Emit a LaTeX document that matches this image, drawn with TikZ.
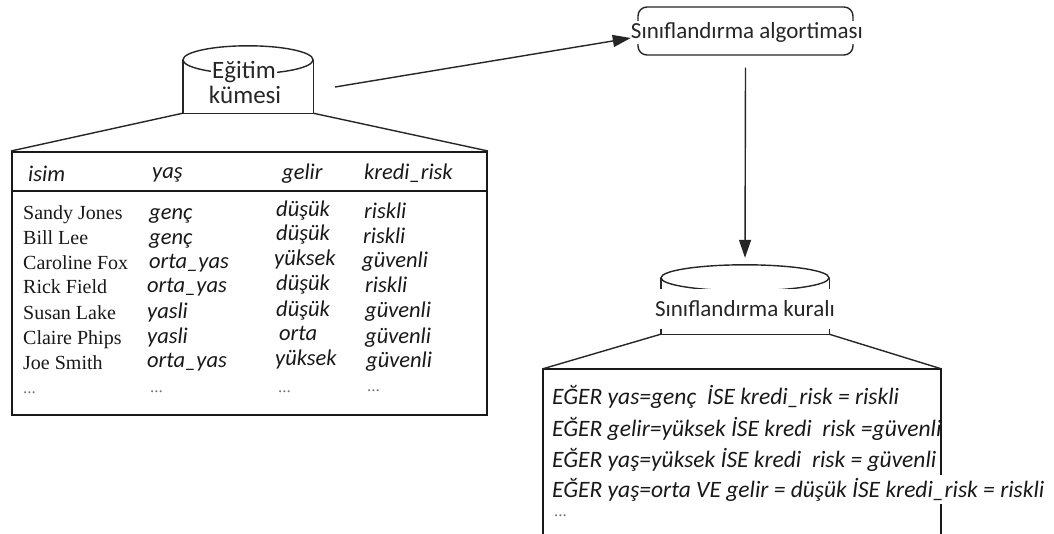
\documentclass[tikz,border=0pt]{standalone}
\usepackage{fontspec}
\setmainfont{Liberation Serif}
\setsansfont{Carlito}
\usetikzlibrary{arrows.meta,calc}
\tikzset{
  edge/.style={line width=1.4pt, draw=black!85},
  frame/.style={line width=2pt, draw=black!90},
  lbl/.style={font=\sffamily\fontsize{23}{26}\selectfont, text=black!85, inner sep=0pt},
  cyllbl/.style={font=\sffamily\fontsize{25}{28}\selectfont, text=black!85, inner sep=0pt},
  hdr/.style={font=\sffamily\itshape\fontsize{22.5}{26}\selectfont, anchor=base west, inner sep=0pt, text=black!90},
  nm/.style={font=\rmfamily\fontsize{20}{24}\selectfont, anchor=base west, inner sep=0pt, text=black!90},
  rulestxt/.style={font=\sffamily\itshape\fontsize{23.5}{26}\selectfont, anchor=base west, inner sep=0pt, text=black!90},
  ell/.style={font=\rmfamily\fontsize{17}{20}\selectfont, anchor=base west, inner sep=0pt, text=black!55},
  arr/.style={edge, -{Triangle[length=18pt,width=12pt]}},
}
\begin{document}
\begin{tikzpicture}[x=1pt,y=-1pt]
\useasboundingbox[fill=white] (0,0) rectangle (1054,533);

% training set cylinder
\node[minimum width=130pt, minimum height=53pt, inner sep=0pt] (train) at (248,86.5) {};
\draw[edge] (train.north west) -- (train.south west) -- (train.south east) -- (train.north east);
\draw[edge] (train.north) ellipse [x radius=65pt, y radius=14pt];
\node[cyllbl, fill=white, inner xsep=1pt] (trainA) at (244,72) {Eğitim};
\node[cyllbl] (trainB) at (245,95) {kümesi};

% data table
\node[frame, minimum width=475pt, minimum height=263pt, inner sep=0pt] (table) at (249.5,283.5) {};
\draw[frame] ($(table.north west)+(0,40)$) -- ($(table.north east)+(0,40)$);
\draw[edge] (train.south west) -- (table.north west);
\draw[edge] (train.south east) -- (table.north east);

\node[hdr] (h1) at (28,181) {isim};
\node[hdr] (h2) at (152,178) {yaş};
\node[hdr] (h3) at (282,179) {gelir};
\node[hdr] (h4) at (364,179) {kredi\_risk};

\node[nm] (n1) at (23,219) {Sandy Jones};
\node[nm] (n2) at (23,244) {Bill Lee};
\node[nm] (n3) at (23,269) {Caroline Fox};
\node[nm] (n4) at (23,293) {Rick Field};
\node[nm] (n5) at (23,319) {Susan Lake};
\node[nm] (n6) at (23,344) {Claire Phips};
\node[nm] (n7) at (23,369) {Joe Smith};

\node[hdr] (a1) at (149,219) {genç};
\node[hdr] (a2) at (149,244) {genç};
\node[hdr] (a3) at (149,268) {orta\_yas};
\node[hdr] (a4) at (147,292) {orta\_yas};
\node[hdr] (a5) at (147,318) {yasli};
\node[hdr] (a6) at (147,343) {yasli};
\node[hdr] (a7) at (147,367) {orta\_yas};

\node[hdr] (g1) at (276,216) {düşük};
\node[hdr] (g2) at (276,240) {düşük};
\node[hdr] (g3) at (274,265) {yüksek};
\node[hdr] (g4) at (276,290) {düşük};
\node[hdr] (g5) at (276,316) {düşük};
\node[hdr] (g6) at (279,340) {orta};
\node[hdr] (g7) at (275,365) {yüksek};

\node[hdr] (k1) at (364,218) {riskli};
\node[hdr] (k2) at (363,243) {riskli};
\node[hdr] (k3) at (362,267) {güvenli};
\node[hdr] (k4) at (365,292) {riskli};
\node[hdr] (k5) at (365,317) {güvenli};
\node[hdr] (k6) at (365,343) {güvenli};
\node[hdr] (k7) at (366,367) {güvenli};

\node[ell] (d1) at (23,393) {...};
\node[ell] (d2) at (150,392) {...};
\node[ell] (d3) at (278,392) {...};
\node[ell] (d4) at (367,391) {...};

% algorithm box
\node[edge, draw, rounded corners=9pt, minimum width=215pt, minimum height=48pt, inner sep=0pt] (algobox) at (745.5,31) {};
\node[lbl, fill=white, minimum height=23pt] (algo) at (747,32) {Sınıflandırma algortiması};

% rules cylinder
\node[minimum width=168pt, minimum height=56pt, inner sep=0pt] (rulescyl) at (745,306) {};
\draw[edge] (rulescyl.north west) -- (rulescyl.south west) -- (rulescyl.south east) -- (rulescyl.north east);
\draw[edge] (rulescyl.north) ellipse [x radius=84pt, y radius=13pt];
\node[lbl, fill=white, minimum height=40pt] (kural) at (745,309) {Sınıflandırma kuralı};

% rules box, open at the bottom
\node[minimum width=398pt, minimum height=170pt, inner sep=0pt] (rules) at (742,454) {};
\draw[frame] (rules.south west) -- (rules.north west) -- (rules.north east) -- (rules.south east);
\draw[edge] (rulescyl.south west) -- (rules.north west);
\draw[edge] (rulescyl.south east) -- (rules.north east);

\node[rulestxt] (r1) at (552,404) {EĞER yas=genç \ İSE kredi\_risk = riskli};
\node[rulestxt] (r2) at (552,436) {EĞER gelir=yüksek İSE kredi \ risk =güvenli};
\node[rulestxt] (r3) at (552,467) {EĞER yaş=yüksek İSE kredi \ risk = güvenli};
\node[rulestxt, fill=white, inner ysep=3pt] (r4) at (552,497) {EĞER yaş=orta VE gelir = düşük İSE kredi\_risk = riskli};
\node[ell] (r5) at (554,516) {...};

% flow arrows
\coordinate (src) at (335,87);
\draw[arr] (src) -- ([yshift=-6pt]algo.west);
\draw[arr] ([yshift=-12pt]algobox.south) -- ([yshift=20pt]rulescyl.north);
\end{tikzpicture}
\end{document}
